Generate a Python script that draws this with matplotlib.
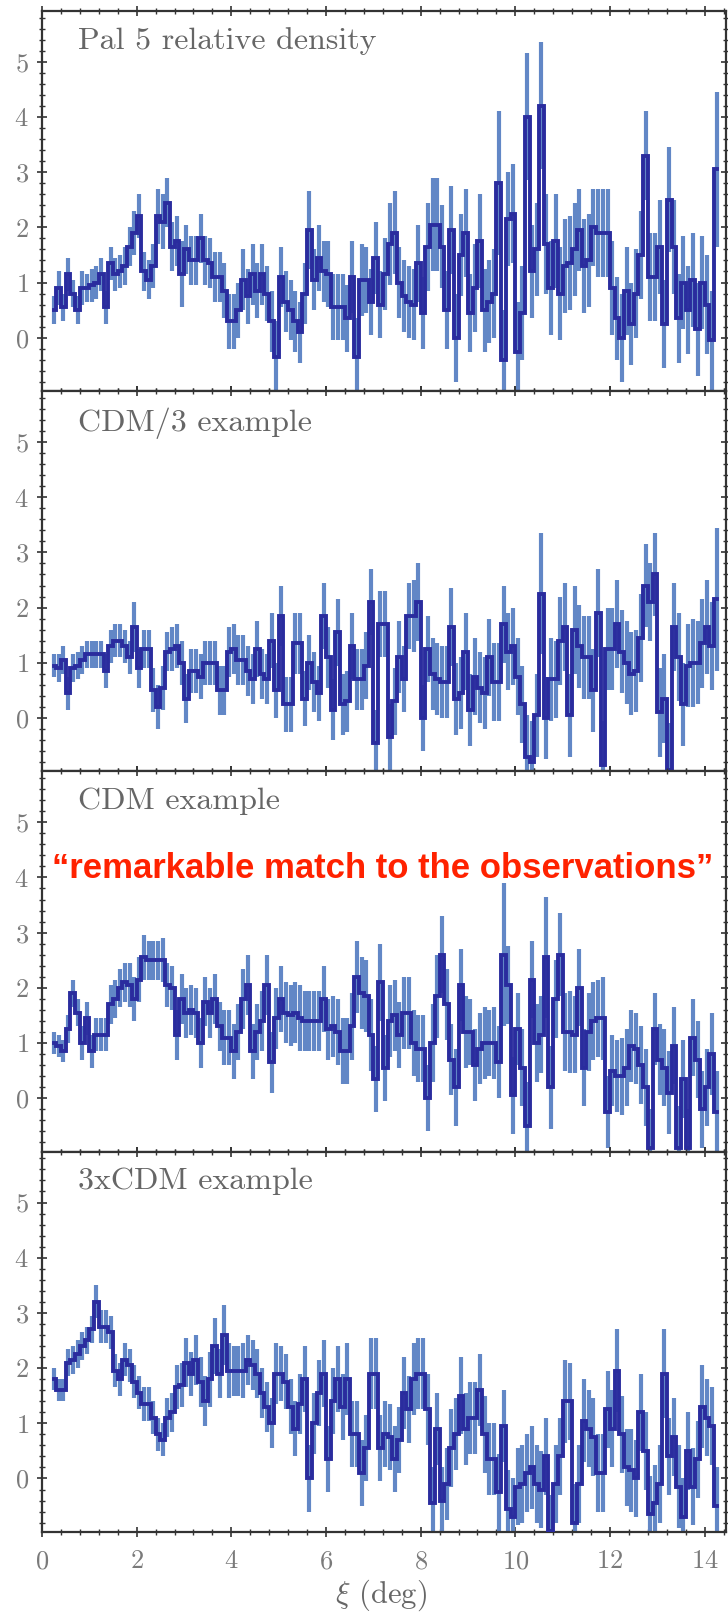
import numpy as np
import matplotlib
matplotlib.use("Agg")
import matplotlib.pyplot as plt
from matplotlib.ticker import MultipleLocator

plt.rcParams["font.family"] = ["cmr10", "DejaVu Serif"]
plt.rcParams["mathtext.fontset"] = "cm"
plt.rcParams["axes.formatter.use_mathtext"] = True

# Binning along the stream (deg)
xi_start = 0.25
bin_width = 0.1

panel_titles = ["Pal 5 relative density", "CDM/3 example", "CDM example", "3xCDM example"]

pal5_density = [
    0.5, 0.9, 0.55, 1.15, 0.8, 0.5, 0.9, 0.9, 0.95, 1.0,
    1.15, 0.55, 1.35, 1.15, 1.2, 1.3, 1.65, 1.9, 2.2, 1.2,
    1.05, 1.3, 2.2, 2.1, 2.45, 1.65, 1.75, 1.15, 1.6, 1.4,
    1.4, 1.8, 1.4, 1.35, 1.1, 1.1, 0.85, 0.3, 0.3, 0.5,
    1.05, 0.75, 1.15, 0.85, 1.15, 0.8, 0.3, -0.35, 1.1, 0.65,
    0.5, 0.3, 0.1, 0.8, 1.95, 1.05, 1.45, 1.2, 1.15, 0.55,
    0.55, 0.55, 0.35, 1.1, -0.35, 1.05, 1.05, 0.65, 1.45, 0.6,
    1.15, 1.7, 1.9, 1.0, 0.75, 0.65, 0.6, 1.35, 0.45, 1.65,
    2.05, 2.05, 1.65, 0.5, 1.95, 0.0, 1.5, 1.9, 0.45, 0.9,
    1.75, 0.5, 0.65, 0.8, 2.8, -0.4, 2.15, 2.25, -0.25, 0.45,
    4.0, 1.2, 1.6, 4.2, 1.7, 0.9, 1.75, 0.8, 1.3, 1.35,
    1.6, 1.95, 1.3, 1.4, 2.0, 1.9, 1.9, 1.9, 0.9, 0.35,
    0.0, 0.85, 0.25, 0.8, 1.5, 3.3, 1.1, 1.1, 1.65, 0.25,
    2.5, 1.65, 0.35, 1.0, 0.5, 1.05, 0.15, 1.0, 0.6, -0.05, 3.05,
]
pal5_err = [
    0.25, 0.3, 0.25, 0.3, 0.25, 0.25, 0.3, 0.25, 0.3, 0.3,
    0.3, 0.3, 0.3, 0.3, 0.3, 0.35, 0.35, 0.4, 0.4, 0.35,
    0.35, 0.4, 0.5, 0.5, 0.45, 0.45, 0.45, 0.6, 0.45, 0.45,
    0.45, 0.45, 0.45, 0.45, 0.45, 0.45, 0.5, 0.5, 0.5, 0.5,
    0.55, 0.5, 0.55, 0.5, 0.55, 0.5, 0.55, 0.65, 0.55, 0.55,
    0.55, 0.55, 0.55, 0.55, 0.7, 0.55, 0.6, 0.55, 0.6, 0.6,
    0.6, 0.6, 0.6, 0.65, 0.7, 0.65, 0.6, 0.6, 0.65, 0.6,
    0.65, 0.75, 0.75, 0.65, 0.65, 0.65, 0.65, 0.7, 0.65, 0.8,
    0.85, 0.85, 0.75, 0.7, 0.8, 0.8, 0.75, 0.8, 0.7, 0.8,
    0.85, 0.75, 0.75, 0.8, 1.3, 0.9, 0.85, 0.9, 0.9, 0.85,
    1.15, 0.85, 0.85, 1.15, 0.9, 0.85, 0.85, 0.85, 0.85, 0.85,
    0.85, 0.75, 0.85, 0.85, 0.7, 0.8, 0.8, 0.8, 0.85, 0.75,
    0.8, 0.8, 0.75, 0.8, 0.8, 0.8, 0.8, 0.8, 0.85, 0.8,
    0.95, 0.85, 0.8, 0.85, 0.8, 0.85, 0.85, 0.85, 0.9, 0.9, 1.4,
]

cdm3_density = [
    0.95, 0.9, 1.05, 0.45, 0.9, 0.95, 1.05, 1.15, 1.15, 1.15,
    1.15, 0.85, 1.3, 1.4, 1.4, 1.3, 1.1, 1.65, 0.9, 1.25,
    1.25, 0.5, 0.2, 0.55, 1.2, 1.25, 1.3, 1.0, 0.35, 0.85,
    0.85, 0.75, 1.0, 1.0, 1.0, 0.5, 0.5, 1.2, 1.25, 1.05,
    1.05, 0.85, 0.7, 1.25, 0.8, 0.7, 1.4, 0.5, 1.85, 0.25,
    0.25, 1.35, 1.35, 0.35, 1.0, 0.65, 0.45, 1.85, 1.1, 0.15,
    1.55, 0.25, 0.3, 1.3, 0.7, 0.7,
    0.95, 2.1, -0.45, 1.7, 1.7, -0.35, 0.3, 1.1, 0.7, 1.85,
    1.85, 2.1, 0.0, 1.25, 0.8, 0.7, 0.65, 0.65, 1.65, 0.35,
    0.45, 1.2, 0.15, 0.75, 0.55, 0.45, 1.1, 0.65, 0.65, 1.7,
    1.2, 1.3, 0.75, 0.25, -0.7, -0.8, 0.05, 2.25, 0.0, 0.7,
    0.7, 1.4, 1.65, 0.05, 1.6, 1.3, 1.1, 1.1, 0.5, 1.9,
    -0.85, 1.25, 1.25, 1.7, 1.2, 1.0, 0.8, 0.85, 1.45, 2.4,
    2.1, 2.6, 0.1, 0.35, -0.95, 1.65, 1.1, 0.25, 0.95, 1.0,
    1.0, 1.35, 1.65, 1.3, 2.15,
]
cdm3_err = [
    0.2, 0.25, 0.25, 0.3, 0.25, 0.25, 0.25, 0.25, 0.25, 0.25,
    0.25, 0.3, 0.3, 0.3, 0.3, 0.3, 0.3, 0.45, 0.35, 0.35,
    0.35, 0.4, 0.4, 0.4, 0.35, 0.4, 0.4, 0.4, 0.45, 0.4,
    0.4, 0.4, 0.4, 0.4, 0.4, 0.45, 0.45, 0.45, 0.45, 0.45,
    0.45, 0.45, 0.45, 0.5, 0.45, 0.45, 0.5, 0.5, 0.55, 0.5,
    0.5, 0.55, 0.55, 0.5, 0.5, 0.55, 0.5, 0.6, 0.55, 0.55,
    0.6, 0.55, 0.55, 0.6, 0.55, 0.55, 0.6, 0.6, 0.6, 0.6,
    0.6, 0.6, 0.6, 0.65, 0.6, 0.6, 0.65, 0.7, 0.6, 0.6,
    0.65, 0.65, 0.65, 0.65, 0.7, 0.65, 0.65, 0.7, 0.65, 0.7,
    0.65, 0.65, 0.7, 0.7, 0.7, 0.7, 0.7, 0.7, 0.7, 0.7,
    0.75, 0.75, 0.75, 1.1, 0.75, 0.75, 0.7, 0.8, 0.8, 0.75,
    0.8, 0.75, 0.75, 0.75, 0.75, 0.8, 0.8, 0.75, 0.75, 0.8,
    0.75, 0.75, 0.75, 0.75, 0.8, 0.75, 0.7, 0.75, 0.8, 0.8,
    0.85, 0.8, 0.8, 0.75, 0.75, 0.8, 0.75, 0.8, 0.85, 0.8, 1.3,
]

cdm_density = [
    1.0, 0.95, 0.85, 1.25, 1.9, 1.55, 1.0, 1.45, 0.85, 1.15,
    1.15, 1.15, 1.7, 1.8, 2.0, 2.1, 2.05, 1.8, 2.15, 2.55,
    2.5, 2.5, 2.5, 2.5, 2.05, 2.0, 1.15, 1.8, 1.55, 1.6,
    1.55, 1.0, 1.75, 1.55, 1.8, 1.3, 1.1, 1.1, 0.85, 1.2,
    1.8, 2.05, 0.85, 1.2, 1.4, 2.05, 0.65, 1.45, 1.8, 1.55,
    1.5, 1.55, 1.45, 1.4, 1.4, 1.4, 1.4, 1.8, 1.25, 1.3,
    1.2, 0.85, 0.85, 1.3, 2.2, 1.9,
    1.85, 1.15, 0.35, 2.1, 0.55, 1.4, 1.5, 1.15, 1.55, 1.55,
    1.0, 0.9, 0.9, 0.0, 1.0, 1.85, 2.6, 1.7, 0.7, 0.2,
    2.05, 1.2, 1.2, 0.6, 0.9, 1.0, 1.0, 1.0, 0.65, 2.6,
    2.05, 0.05, 1.25, 0.55, -0.5, 2.15, 1.0, 1.15, 2.55, 0.2,
    1.8, 2.6, 1.2, 1.2, 1.15, 2.0, 0.55, 1.2, 1.4, 1.45,
    1.45, -0.25, 0.5, 0.4, 0.4, 0.55, 0.95, 0.9, 0.6, 0.2,
    -0.9, 1.25, 0.7, 0.55, 0.1, 0.95, -0.9, 0.35, -0.9, 1.1,
    0.7, -0.2, 0.2, 0.8, -0.25,
]
cdm_err = [
    0.2, 0.2, 0.2, 0.25, 0.25, 0.25, 0.3, 0.3, 0.3, 0.3,
    0.3, 0.3, 0.35, 0.35, 0.35, 0.35, 0.4, 0.4, 0.4, 0.4,
    0.35, 0.35, 0.35, 0.4, 0.4, 0.4, 0.45, 0.45, 0.45, 0.45,
    0.45, 0.45, 0.45, 0.45, 0.45, 0.45, 0.5, 0.5, 0.5, 0.5,
    0.55, 0.55, 0.5, 0.5, 0.55, 0.55, 0.55, 0.55, 0.6, 0.55,
    0.55, 0.55, 0.6, 0.55, 0.55, 0.55, 0.55, 0.6, 0.55, 0.55,
    0.6, 0.6, 0.6, 0.6, 0.65, 0.65, 0.65, 0.65, 0.6, 0.7,
    0.6, 0.65, 0.65, 0.6, 0.65, 0.65, 0.6, 0.6, 0.6, 0.6,
    0.7, 0.75, 0.7, 0.65, 0.65, 0.7, 0.65, 0.65, 0.6, 0.65,
    0.65, 0.65, 0.6, 0.65, 0.65, 1.3, 0.7, 0.7, 0.65, 0.7,
    0.8, 0.7, 0.7, 0.7, 1.1, 0.75, 0.7, 0.75, 0.7, 0.75,
    0.7, 0.7, 0.7, 0.7, 0.7, 0.7, 0.75, 0.65, 0.65, 0.65,
    0.7, 0.7, 0.65, 0.65, 0.7, 0.7, 0.7, 0.65, 0.65, 0.7,
    0.75, 0.7, 0.75, 0.7, 0.7, 0.7, 0.7, 0.7, 0.7, 0.75, 0.75,
]

cdm3x_density = [
    1.8, 1.6, 1.6, 2.1, 2.15, 2.25, 2.4, 2.5, 2.7, 3.2,
    2.75, 2.75, 2.65, 1.95, 1.8, 2.15, 2.05, 1.75, 1.55, 1.35,
    1.35, 1.1, 0.8, 0.7, 1.1, 1.2, 1.65, 1.7, 2.1, 1.9,
    2.15, 1.75, 1.4, 1.8, 2.4, 1.9, 2.6, 1.95, 1.95, 1.95,
    1.95, 2.15, 2.05, 1.9, 1.55, 1.3, 1.0, 1.9, 1.9, 1.75,
    1.3, 0.9, 1.35, 1.8, 0.0, 1.0, 1.55, 1.9, 0.35, 1.4,
    1.8, 1.3, 1.8, 0.8, 0.8, 0.1,
    0.55, 1.9, 1.9, 0.55, 0.8, 0.75, 0.35, 0.7, 1.55, 1.25,
    1.8, 1.9, 1.9, 1.25, -0.45, 0.9, -0.4, -0.1, 0.55, 0.8,
    1.5, 0.9, 1.1, 1.1, 1.6, 0.8, 0.35, 0.35, -0.25, 0.95,
    -0.55, -0.7, -0.15, -0.1, 0.1, 0.2, -0.1, -0.2, 0.4, -0.95,
    -0.1, 0.4, 1.4, 1.4, -0.8, -0.1, 1.05, 0.9, 0.75, 0.1,
    0.1, 1.25, 0.9, 1.95, 0.8, 0.2, 0.15, 0.0, 1.2, 0.5,
    -0.65, -0.45, -0.1, 1.9, 0.4, 0.75, -0.15, -0.7, 0.5, -0.15,
    0.35, 1.3, 1.1, 0.95, -0.5,
]
cdm3x_err = [
    0.2, 0.2, 0.2, 0.25, 0.25, 0.25, 0.25, 0.25, 0.25, 0.3,
    0.3, 0.3, 0.3, 0.3, 0.3, 0.3, 0.3, 0.3, 0.3, 0.3,
    0.3, 0.3, 0.3, 0.3, 0.35, 0.35, 0.4, 0.4, 0.45, 0.4,
    0.45, 0.45, 0.45, 0.5, 0.5, 0.45, 0.55, 0.5, 0.45, 0.45,
    0.5, 0.45, 0.45, 0.45, 0.45, 0.45, 0.45, 0.55, 0.5, 0.5,
    0.5, 0.5, 0.55, 0.6, 0.6, 0.55, 0.6, 0.6, 0.6, 0.6,
    0.6, 0.6, 0.65, 0.6, 0.6, 0.6, 0.6, 0.65, 0.65, 0.6,
    0.6, 0.6, 0.6, 0.6, 0.65, 0.6, 0.65, 0.65, 0.65, 0.65,
    0.65, 0.65, 0.6, 0.65, 0.7, 0.65, 0.7, 0.65, 0.65, 0.65,
    0.65, 0.7, 0.65, 0.65, 0.7, 0.65, 0.7, 0.7, 0.7, 0.7,
    0.7, 0.75, 0.7, 0.7, 0.7, 0.65, 0.7, 0.7, 0.75, 0.7,
    0.7, 0.7, 0.75, 0.7, 0.7, 0.7, 0.7, 0.7, 0.7, 0.75,
    0.7, 0.7, 0.75, 0.7, 0.7, 0.7, 0.7, 0.7, 0.7, 0.8,
    0.7, 0.7, 0.75, 0.7, 0.7, 0.7, 0.7, 0.75, 0.7, 0.7, 0.7,
]

panels = [
    (pal5_density, pal5_err),
    (cdm3_density, cdm3_err),
    (cdm_density, cdm_err),
    (cdm3x_density, cdm3x_err),
]

xticks = [0, 2, 4, 6, 8, 10, 12, 14]
yticks = [0, 1, 2, 3, 4, 5]

line_color = "#2a2c9e"
err_color = "#6287c6"
spine_color = "#333333"
tick_label_color = "#7a7a7a"
title_color = "#666666"

fig = plt.figure(figsize=(7.28, 16.17), dpi=100)
gs = fig.add_gridspec(4, 1, left=42 / 728, right=726 / 728,
                      top=1 - 11 / 1617, bottom=1 - 1532 / 1617, hspace=0)

axes = []
for k, ((dens, err), title) in enumerate(zip(panels, panel_titles)):
    ax = fig.add_subplot(gs[k, 0], sharex=axes[0] if axes else None)
    axes.append(ax)
    n = min(len(dens), len(err))
    y = np.asarray(dens[:n], dtype=float)
    e = np.asarray(err[:n], dtype=float)
    x = xi_start + bin_width * np.arange(n)

    ax.errorbar(x, y, yerr=e, fmt="none", ecolor=err_color, elinewidth=3.0,
                capsize=0, zorder=2)
    ax.plot(x, y, drawstyle="steps-mid", color=line_color, lw=2.8,
            solid_joinstyle="miter", zorder=3)

    ax.set_xlim(0, 14.45)
    ax.set_ylim(-0.97, 5.92)
    ax.set_xticks(xticks)
    ax.set_yticks(yticks)
    ax.xaxis.set_minor_locator(MultipleLocator(0.4))
    ax.yaxis.set_minor_locator(MultipleLocator(0.2))
    ax.tick_params(which="both", direction="inout", top=True, right=True,
                   color=spine_color, labelcolor=tick_label_color,
                   labelsize=19)
    ax.tick_params(which="major", length=7, width=1.2)
    ax.tick_params(which="minor", length=4, width=1.0)
    ax.tick_params(axis="y", pad=6)
    ax.tick_params(axis="x", pad=9)
    for sp in ax.spines.values():
        sp.set_color(spine_color)
        sp.set_linewidth(1.6)
    if k < 3:
        ax.tick_params(labelbottom=False)

    ax.text(0.053, 0.958, title, transform=ax.transAxes, ha="left", va="top",
            fontsize=23, color=title_color)

fig.text(381 / 728, 1 - 1595 / 1617, r"$\xi$ (deg)", ha="center", va="center",
         fontsize=22, color=title_color)

fig.text(52 / 728, 1 - 878 / 1617, "\u201cremarkable match to the observations\u201d",
         fontfamily="Liberation Sans", fontweight="bold", fontsize=25,
         color="#ff2200", ha="left", va="baseline", zorder=10)

fig.savefig("out.png", dpi=100)
